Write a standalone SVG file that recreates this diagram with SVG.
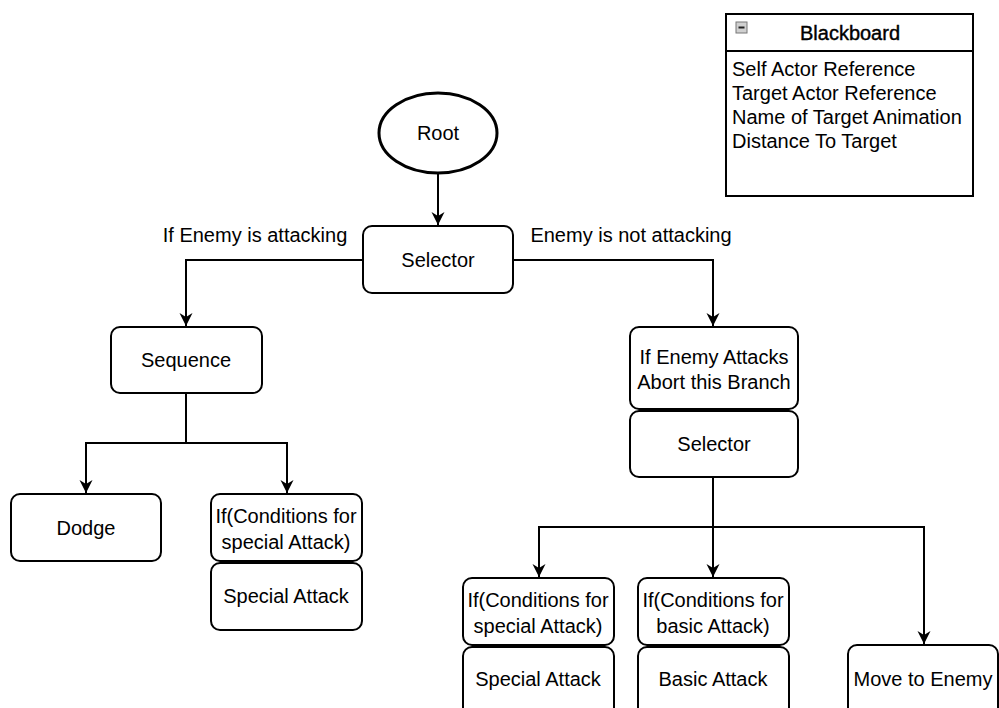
<svg xmlns="http://www.w3.org/2000/svg" width="999" height="708" viewBox="0 0 999 708">
<defs>
<style>
.n{fill:#fff;stroke:#000;stroke-width:2}
.t{font-family:"Liberation Sans",Arial,sans-serif;font-size:20px;fill:#000;text-anchor:middle}
.l{font-family:"Liberation Sans",Arial,sans-serif;font-size:20px;fill:#000}
.c{fill:none;stroke:#000;stroke-width:2}
</style>
<marker id="a" markerWidth="14" markerHeight="14" refX="13" refY="7" orient="auto" markerUnits="userSpaceOnUse">
<path d="M0,0.5 L13,7 L0,13.5 L4,7 z" fill="#000"/>
</marker>
</defs>
<rect width="999" height="708" fill="#fff"/>
<g id="connectors">
<path class="c" d="M438,174 V225" marker-end="url(#a)"/>
<path class="c" d="M363,260 H186 V326" marker-end="url(#a)"/>
<path class="c" d="M513,260 H713 V326" marker-end="url(#a)"/>
<path class="c" d="M186,393 V443 H86 V493" marker-end="url(#a)"/>
<path class="c" d="M186,443 H287 V493" marker-end="url(#a)"/>
<path class="c" d="M713,477 V577" marker-end="url(#a)"/>
<path class="c" d="M713,527 H539 V577" marker-end="url(#a)"/>
<path class="c" d="M713,527 H924 V644" marker-end="url(#a)"/>
</g>
<g id="labels">
<text class="t" x="255" y="242">If Enemy is attacking</text>
<text class="t" x="631" y="242">Enemy is not attacking</text>
</g>
<g id="blackboard">
<rect x="726" y="14" width="247" height="182" fill="#fff" stroke="#000" stroke-width="2"/>
<line x1="726" y1="51" x2="973" y2="51" stroke="#000" stroke-width="2"/>
<rect x="736" y="22" width="11" height="11" fill="#d0d0d0" stroke="#777" stroke-width="1"/>
<line x1="738.5" y1="27.5" x2="744.5" y2="27.5" stroke="#222" stroke-width="2"/>
<text class="t" x="850" y="40" stroke="#000" stroke-width="0.4">Blackboard</text>
<text class="l" x="732" y="76">Self Actor Reference</text>
<text class="l" x="732" y="100">Target Actor Reference</text>
<text class="l" x="732" y="124">Name of Target Animation</text>
<text class="l" x="732" y="148">Distance To Target</text>
</g>
<g id="root">
<ellipse cx="438" cy="133" rx="59" ry="40" fill="#fff" stroke="#000" stroke-width="3"/>
<text class="t" x="438" y="140">Root</text>
</g>
<g id="selector">
<rect class="n" x="363" y="226" width="150" height="67" rx="9"/>
<text class="t" x="438" y="267">Selector</text>
</g>
<g id="sequence">
<rect class="n" x="111" y="327" width="151" height="66" rx="9"/>
<text class="t" x="186" y="367">Sequence</text>
</g>
<g id="dodge">
<rect class="n" x="11" y="494" width="150" height="67" rx="9"/>
<text class="t" x="86" y="535">Dodge</text>
</g>
<g id="cond-special-left">
<rect class="n" x="211" y="494" width="151" height="67" rx="9"/>
<text class="t" x="286" y="523">If(Conditions for</text>
<text class="t" x="286" y="549">special Attack)</text>
</g>
<g id="special-left">
<rect class="n" x="211" y="563" width="151" height="67" rx="9"/>
<text class="t" x="286" y="603">Special Attack</text>
</g>
<g id="abort">
<rect class="n" x="630" y="327" width="168" height="82" rx="9"/>
<text class="t" x="714" y="364">If Enemy Attacks</text>
<text class="t" x="714" y="389">Abort this Branch</text>
</g>
<g id="selector2">
<rect class="n" x="630" y="411" width="168" height="66" rx="9"/>
<text class="t" x="714" y="451">Selector</text>
</g>
<g id="cond-special-right">
<rect class="n" x="463" y="578" width="151" height="67" rx="9"/>
<text class="t" x="538" y="607">If(Conditions for</text>
<text class="t" x="538" y="633">special Attack)</text>
</g>
<g id="special-right">
<rect class="n" x="463" y="647" width="151" height="70" rx="9"/>
<text class="t" x="538" y="686">Special Attack</text>
</g>
<g id="cond-basic">
<rect class="n" x="638" y="578" width="151" height="67" rx="9"/>
<text class="t" x="713" y="607">If(Conditions for</text>
<text class="t" x="713" y="633">basic Attack)</text>
</g>
<g id="basic">
<rect class="n" x="638" y="647" width="151" height="70" rx="9"/>
<text class="t" x="713" y="686">Basic Attack</text>
</g>
<g id="move">
<rect class="n" x="848" y="645" width="150" height="72" rx="9"/>
<text class="t" x="923" y="686">Move to Enemy</text>
</g>
</svg>
